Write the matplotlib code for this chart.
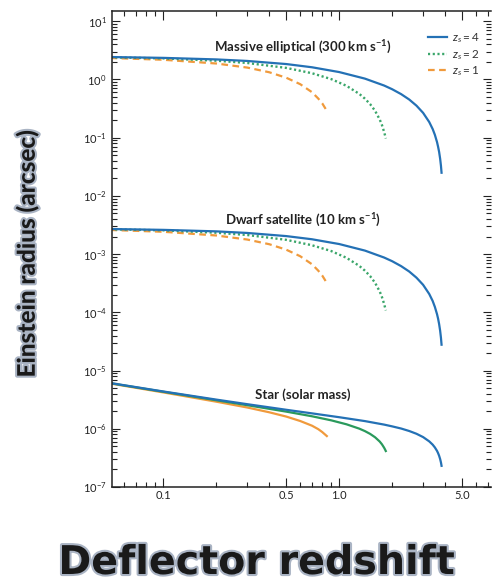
import matplotlib
matplotlib.use("Agg")
import matplotlib.pyplot as plt
import matplotlib.ticker as mticker
import matplotlib.patheffects as pe

plt.rcParams['font.family'] = ['Lato', 'DejaVu Sans']
plt.rcParams['mathtext.fontset'] = 'custom'
plt.rcParams['mathtext.rm'] = 'Lato'
plt.rcParams['mathtext.it'] = 'Lato:italic'
plt.rcParams['mathtext.bf'] = 'Lato:bold'

# Deflector redshift grids (one per source redshift)
z_lens_zs4 = [0.05, 0.1, 0.2, 0.3, 0.5, 0.7, 1.0, 1.4, 1.8, 2.0, 2.25, 2.5,
              2.75, 3.0, 3.25, 3.4, 3.5, 3.6, 3.65, 3.7, 3.75, 3.79, 3.82]
z_lens_zs2 = [0.05, 0.1, 0.2, 0.3, 0.5, 0.7, 0.9, 1.1, 1.3, 1.4, 1.5, 1.6,
              1.7, 1.75, 1.8, 1.82, 1.84]
z_lens_zs1 = [0.05, 0.1, 0.2, 0.3, 0.4, 0.5, 0.6, 0.7, 0.76, 0.8, 0.85]

# Einstein radius (arcsec), massive elliptical, 300 km/s
massive_zs4 = [2.43, 2.35, 2.21, 2.08, 1.84, 1.62, 1.34, 1.034, 0.787, 0.68,
               0.56, 0.453, 0.355, 0.267, 0.186, 0.141, 0.112, 0.084, 0.070,
               0.057, 0.0435, 0.033, 0.025]
massive_zs2 = [2.40, 2.30, 2.10, 1.92, 1.58, 1.28, 1.015, 0.778, 0.566, 0.468,
               0.376, 0.289, 0.205, 0.165, 0.126, 0.111, 0.097]
massive_zs1 = [2.34, 2.18, 1.88, 1.60, 1.33, 1.07, 0.83, 0.605, 0.47, 0.39, 0.29]

# dwarf satellite, 10 km/s
dwarf_zs4 = [2.70e-3, 2.61e-3, 2.46e-3, 2.31e-3, 2.04e-3, 1.80e-3, 1.49e-3,
             1.15e-3, 8.74e-4, 7.56e-4, 6.22e-4, 5.03e-4, 3.94e-4, 2.97e-4,
             2.07e-4, 1.57e-4, 1.24e-4, 9.3e-5, 7.8e-5, 6.3e-5, 4.83e-5,
             3.67e-5, 2.78e-5]
dwarf_zs2 = [2.67e-3, 2.56e-3, 2.33e-3, 2.13e-3, 1.76e-3, 1.42e-3, 1.13e-3,
             8.64e-4, 6.29e-4, 5.2e-4, 4.18e-4, 3.21e-4, 2.28e-4, 1.83e-4,
             1.40e-4, 1.23e-4, 1.08e-4]
dwarf_zs1 = [2.60e-3, 2.42e-3, 2.09e-3, 1.78e-3, 1.48e-3, 1.19e-3, 9.2e-4,
             6.7e-4, 5.2e-4, 4.3e-4, 3.2e-4]

# star, one solar mass
star_zs4 = [6.10e-6, 4.37e-6, 3.17e-6, 2.645e-6, 2.12e-6, 1.84e-6, 1.58e-6,
            1.355e-6, 1.18e-6, 1.10e-6, 1.01e-6, 9.16e-7, 8.21e-7, 7.20e-7,
            6.08e-7, 5.34e-7, 4.78e-7, 4.17e-7, 3.82e-7, 3.44e-7, 3.02e-7,
            2.64e-7, 2.31e-7]
star_zs2 = [6.06e-6, 4.32e-6, 3.09e-6, 2.54e-6, 1.97e-6, 1.64e-6, 1.397e-6,
            1.194e-6, 1.006e-6, 9.12e-7, 8.16e-7, 7.14e-7, 6.03e-7, 5.41e-7,
            4.73e-7, 4.44e-7, 4.15e-7]
star_zs1 = [5.99e-6, 4.21e-6, 2.92e-6, 2.32e-6, 1.92e-6, 1.62e-6, 1.36e-6,
            1.13e-6, 9.85e-7, 8.8e-7, 7.5e-7]

source_labels = [r'$z_s = 4$', r'$z_s = 2$', r'$z_s = 1$']
panel_labels = [r'Massive elliptical (300 km s$^{\mathbf{-1}}$)',
                r'Dwarf satellite (10 km s$^{\mathbf{-1}}$)',
                'Star (solar mass)']
x_major = [0.1, 0.5, 1.0, 5.0]
x_major_labels = ['0.1', '0.5', '1.0', '5.0']

BLUE = '#2471b5'
GREEN = '#2a9a5c'
GREEN_DOT = '#3aa66a'
ORANGE = '#f09a3c'
DOTTED = (0, (0.9, 1.1))
DASHED = (0, (3.0, 2.0))

fig = plt.figure(figsize=(4.92, 5.84), dpi=100)
ax = fig.add_axes([112 / 492, 1 - 487 / 584, (491 - 112) / 492, (487 - 11) / 584])

# SIS curves (top two groups)
handles = None
for yz1, yz2, yz4 in [(massive_zs1, massive_zs2, massive_zs4),
                      (dwarf_zs1, dwarf_zs2, dwarf_zs4)]:
    l1, = ax.plot(z_lens_zs1, yz1, color=ORANGE, lw=1.6, ls=DASHED)
    l2, = ax.plot(z_lens_zs2, yz2, color=GREEN_DOT, lw=1.7, ls=DOTTED)
    l4, = ax.plot(z_lens_zs4, yz4, color=BLUE, lw=1.6)
    if handles is None:
        handles = [l4, l2, l1]

# point mass
ax.plot(z_lens_zs1, star_zs1, color=ORANGE, lw=1.6)
ax.plot(z_lens_zs2, star_zs2, color=GREEN, lw=1.6)
ax.plot(z_lens_zs4, star_zs4, color=BLUE, lw=1.6)

ax.set_xscale('log')
ax.set_yscale('log')
ax.set_xlim(0.051, 7.3)
ax.set_ylim(1e-7, 15)

ax.xaxis.set_major_locator(mticker.FixedLocator(x_major))
ax.xaxis.set_major_formatter(mticker.FixedFormatter(x_major_labels))
ax.xaxis.set_minor_locator(mticker.LogLocator(base=10, subs=range(2, 10), numticks=20))
ax.xaxis.set_minor_formatter(mticker.NullFormatter())
ax.yaxis.set_major_locator(mticker.LogLocator(base=10, numticks=20))
ax.yaxis.set_minor_locator(mticker.LogLocator(base=10, subs=range(2, 10), numticks=20))
ax.yaxis.set_minor_formatter(mticker.NullFormatter())

ax.tick_params(which='both', direction='in', top=True, right=True,
               width=0.8, colors='#222222', labelsize=8)
ax.tick_params(axis='x', which='major', length=6.5, pad=2)
ax.tick_params(axis='y', which='major', length=6.0, pad=4)
ax.tick_params(which='minor', length=3.5)
for side in ['left', 'bottom', 'top']:
    ax.spines[side].set_linewidth(1.1)
    ax.spines[side].set_color('#222222')
ax.spines['right'].set_visible(False)

for lab, yf in zip(panel_labels, [0.924, 0.561, 0.195]):
    ax.text(0.504, yf, lab, transform=ax.transAxes, ha='center', va='center',
            fontsize=9.5, fontweight='bold', color='#222222')

leg = ax.legend(handles, source_labels, loc='upper left',
                bbox_to_anchor=(0.835, 0.958), frameon=False, fontsize=8.5,
                handlelength=1.6, handletextpad=0.4, labelspacing=0.25,
                borderpad=0, borderaxespad=0)
for t in leg.get_texts():
    t.set_color('#333333')

halo = [pe.withStroke(linewidth=3, foreground='#aab4c4')]
fig.text(0.522, 1 - 574 / 584, 'Deflector redshift', ha='center', va='baseline',
         fontsize=28.5, fontweight='bold', family='DejaVu Sans',
         color='#1a1a1a', path_effects=halo)
fig.text(27 / 492, 1 - 254 / 584, 'Einstein radius (arcsec)', rotation=90,
         ha='center', va='center', fontsize=17.5, fontweight='black',
         color='#1a1a1a', path_effects=halo)

fig.savefig('out.png', dpi=100, facecolor='white')
